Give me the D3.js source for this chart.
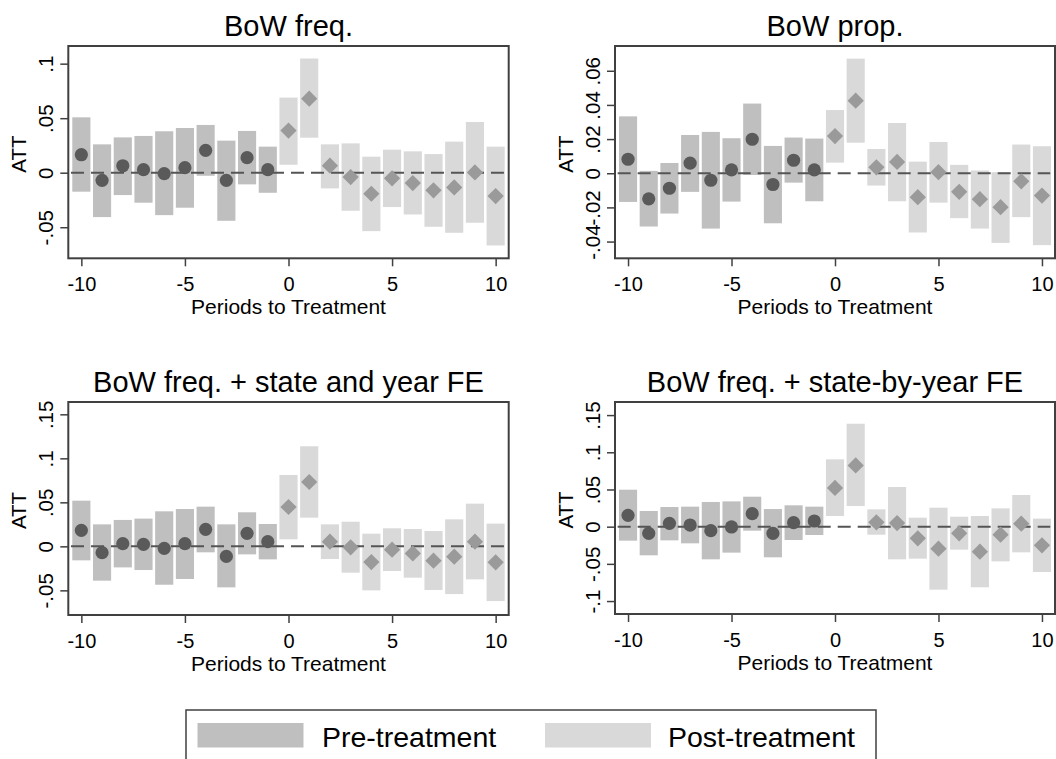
<!DOCTYPE html>
<html>
<head>
<meta charset="utf-8">
<script src="https://cdn.jsdelivr.net/npm/d3@7/dist/d3.min.js"></script>
<style>
  html, body { margin: 0; padding: 0; background: #fff; }
  svg { display: block; font-family: "Liberation Sans", Arial, sans-serif; }
</style>
</head>
<body>
<svg id="chart" width="1056" height="759"></svg>
<script>
// ---------------- DATA ----------------
const periods = [-10,-9,-8,-7,-6,-5,-4,-3,-2,-1,0,1,2,3,4,5,6,7,8,9,10];
const xTicks = [-10, -5, 0, 5, 10];
const panelTitles = ["BoW freq.", "BoW prop.", "BoW freq. + state and year FE", "BoW freq. + state-by-year FE"];
const legendLabels = ["Pre-treatment", "Post-treatment"];

// Panel 1: BoW freq.
const p1Est = [0.0165,-0.0070,0.0064,0.0028,-0.0009,0.0046,0.0205,-0.0070,0.0138,0.0028,0.0386,0.0679,0.0064,-0.0040,-0.0193,-0.0052,-0.0095,-0.0162,-0.0135,0.0003,-0.0214];
const p1Lo  = [-0.0174,-0.0407,-0.0205,-0.0275,-0.0389,-0.0321,-0.0028,-0.0441,-0.0107,-0.0184,0.0073,0.0321,-0.0144,-0.0349,-0.0536,-0.0315,-0.0383,-0.0496,-0.0551,-0.0459,-0.0667];
const p1Hi  = [0.0508,0.0260,0.0324,0.0337,0.0380,0.0410,0.0438,0.0294,0.0383,0.0239,0.0689,0.1047,0.0260,0.0269,0.0147,0.0211,0.0196,0.0171,0.0285,0.0465,0.0239];
const p1YTicks = [-0.05, 0, 0.05, 0.1];

// Panel 2: BoW prop.
const p2Est = [0.0082,-0.0150,-0.0088,0.0059,-0.0041,0.0020,0.0199,-0.0066,0.0076,0.0020,0.0218,0.0425,0.0035,0.0066,-0.0140,0.0006,-0.0109,-0.0152,-0.0199,-0.0047,-0.0131];
const p2Lo  = [-0.0168,-0.0312,-0.0236,-0.0109,-0.0324,-0.0166,-0.0010,-0.0293,-0.0055,-0.0164,0.0062,0.0179,-0.0072,-0.0164,-0.0347,-0.0172,-0.0263,-0.0324,-0.0408,-0.0257,-0.0421];
const p2Hi  = [0.0333,0.0014,0.0060,0.0224,0.0242,0.0205,0.0408,0.0160,0.0209,0.0203,0.0370,0.0671,0.0142,0.0294,0.0068,0.0183,0.0049,0.0016,0.0006,0.0168,0.0158];
const p2YTicks = [-0.04, -0.02, 0, 0.02, 0.04, 0.06];

// Panel 3: BoW freq. + state and year FE
const p3Est = [0.0182,-0.0072,0.0030,0.0023,-0.0023,0.0030,0.0193,-0.0114,0.0148,0.0053,0.0447,0.0731,0.0053,-0.0011,-0.0178,-0.0038,-0.0080,-0.0163,-0.0117,0.0053,-0.0182];
const p3Lo  = [-0.0159,-0.0390,-0.0239,-0.0269,-0.0436,-0.0371,-0.0068,-0.0466,-0.0091,-0.0148,0.0080,0.0326,-0.0144,-0.0299,-0.0500,-0.0280,-0.0356,-0.0496,-0.0542,-0.0375,-0.0622];
const p3Hi  = [0.0519,0.0250,0.0300,0.0315,0.0398,0.0424,0.0451,0.0250,0.0387,0.0254,0.0811,0.1137,0.0250,0.0280,0.0144,0.0205,0.0197,0.0174,0.0307,0.0485,0.0258];
const p3YTicks = [-0.05, 0, 0.05, 0.1, 0.15];

// Panel 4: BoW freq. + state-by-year FE
const p4Est = [0.0152,-0.0090,0.0045,0.0022,-0.0054,-0.0004,0.0175,-0.0090,0.0054,0.0076,0.0520,0.0824,0.0058,0.0049,-0.0157,-0.0296,-0.0090,-0.0336,-0.0108,0.0040,-0.0251];
const p4Lo  = [-0.0188,-0.0385,-0.0184,-0.0224,-0.0439,-0.0349,-0.0054,-0.0412,-0.0179,-0.0112,0.0143,0.0278,-0.0108,-0.0439,-0.0430,-0.0847,-0.0309,-0.0815,-0.0466,-0.0345,-0.0609];
const p4Hi  = [0.0497,0.0211,0.0264,0.0269,0.0332,0.0340,0.0403,0.0237,0.0287,0.0269,0.0905,0.1384,0.0233,0.0533,0.0121,0.0255,0.0134,0.0143,0.0246,0.0426,0.0108];
const p4YTicks = [-0.1, -0.05, 0, 0.05, 0.1, 0.15];

// ---------------- LAYOUT / STYLE ----------------
const panels = [
  { title: panelTitles[0], est: p1Est, lo: p1Lo, hi: p1Hi, yTicks: p1YTicks, yDom: [-0.0785, 0.1162], box: { x0: 68.3, x1: 508.7, y0: 46, y1: 258.3 } },
  { title: panelTitles[1], est: p2Est, lo: p2Lo, hi: p2Hi, yTicks: p2YTicks, yDom: [-0.0498, 0.0745], box: { x0: 615, x1: 1055, y0: 46, y1: 258.3 } },
  { title: panelTitles[2], est: p3Est, lo: p3Lo, hi: p3Hi, yTicks: p3YTicks, yDom: [-0.078, 0.164], box: { x0: 68.3, x1: 508.7, y0: 402, y1: 615 } },
  { title: panelTitles[3], est: p4Est, lo: p4Lo, hi: p4Hi, yTicks: p4YTicks, yDom: [-0.1174, 0.1676], box: { x0: 615, x1: 1055, y0: 402, y1: 614 } }
];

const COL_PRE_BAR = "#bfbfbf";
const COL_POST_BAR = "#d9d9d9";
const COL_PRE_PT = "#5a5a5a";
const COL_POST_PT = "#9a9a9a";
const COL_FRAME = "#404040";
const COL_TEXT = "#000";

function stataFmt(v) {
  const r = +v.toFixed(4);
  if (r === 0) return "0";
  return String(r).replace(/^(-?)0\./, "$1.");
}

const svg = d3.select("#chart");

panels.forEach(p => {
  const b = p.box;
  const x = d3.scaleLinear().domain([-10.63, 10.63]).range([b.x0, b.x1]);
  const y = d3.scaleLinear().domain(p.yDom).range([b.y1, b.y0]);
  const g = svg.append("g");
  const bw = (x(1) - x(0)) * 0.875;

  const rows = periods.map((t, i) => ({ t, est: p.est[i], lo: p.lo[i], hi: p.hi[i], pre: t < 0 }));

  // CI bars
  g.selectAll("rect.ci").data(rows).enter().append("rect")
    .attr("class", "ci")
    .attr("x", d => x(d.t) - bw / 2)
    .attr("width", bw)
    .attr("y", d => y(d.hi))
    .attr("height", d => y(d.lo) - y(d.hi))
    .attr("fill", d => d.pre ? COL_PRE_BAR : COL_POST_BAR);

  // zero reference line
  g.append("line")
    .attr("x1", x(-10.5)).attr("x2", x(10.4))
    .attr("y1", y(0)).attr("y2", y(0))
    .attr("stroke", "#555").attr("stroke-width", 2)
    .attr("stroke-dasharray", "13,7");

  // points
  g.selectAll("circle.pt").data(rows.filter(d => d.pre)).enter().append("circle")
    .attr("class", "pt")
    .attr("cx", d => x(d.t)).attr("cy", d => y(d.est))
    .attr("r", 6.6).attr("fill", COL_PRE_PT);

  const diamond = d3.symbol().type(d3.symbolDiamond2).size(168);
  g.selectAll("path.pt").data(rows.filter(d => !d.pre)).enter().append("path")
    .attr("class", "pt")
    .attr("transform", d => `translate(${x(d.t)},${y(d.est)})`)
    .attr("d", diamond)
    .attr("fill", COL_POST_PT);

  // frame
  g.append("rect")
    .attr("x", b.x0).attr("y", b.y0)
    .attr("width", b.x1 - b.x0).attr("height", b.y1 - b.y0)
    .attr("fill", "none").attr("stroke", COL_FRAME).attr("stroke-width", 2);

  // x axis
  const xAxis = d3.axisBottom(x).tickValues(xTicks).tickSize(8).tickSizeOuter(0).tickFormat(d3.format("d"));
  const xg = g.append("g").attr("transform", `translate(0,${b.y1})`).call(xAxis);
  xg.select(".domain").remove();
  xg.selectAll(".tick line").attr("stroke", COL_FRAME).attr("stroke-width", 1.5);
  xg.selectAll(".tick text").attr("font-size", 20).attr("fill", COL_TEXT)
    .attr("y", 32.5).attr("dy", 0)
    .text(d => d < 0 ? "-" + Math.abs(d) : String(d));

  // y axis
  const yAxis = d3.axisLeft(y).tickValues(p.yTicks).tickSize(8).tickSizeOuter(0).tickFormat(stataFmt);
  const yg = g.append("g").attr("transform", `translate(${b.x0},0)`).call(yAxis);
  yg.select(".domain").remove();
  yg.selectAll(".tick line").attr("stroke", COL_FRAME).attr("stroke-width", 1.5);
  yg.selectAll(".tick text").attr("font-size", 20.5).attr("fill", COL_TEXT)
    .attr("x", null).attr("dy", null)
    .attr("text-anchor", "middle")
    .attr("transform", "translate(-15,0) rotate(-90)")
    .attr("y", 0);

  // axis titles
  g.append("text")
    .attr("x", (b.x0 + b.x1) / 2).attr("y", b.y1 + 56)
    .attr("text-anchor", "middle").attr("font-size", 21).attr("fill", COL_TEXT)
    .text("Periods to Treatment");
  g.append("text")
    .attr("transform", `translate(${b.x0 - 42},${(b.y0 + b.y1) / 2 + 2}) rotate(-90)`)
    .attr("text-anchor", "middle").attr("font-size", 20.5).attr("fill", COL_TEXT)
    .text("ATT");

  // panel title
  g.append("text")
    .attr("x", (b.x0 + b.x1) / 2).attr("y", b.y0 - 10)
    .attr("text-anchor", "middle").attr("font-size", 29).attr("fill", COL_TEXT)
    .text(p.title);
});

// ---------------- LEGEND ----------------
const lg = svg.append("g");
lg.append("rect").attr("x", 186).attr("y", 710).attr("width", 690).attr("height", 70)
  .attr("fill", "#fff").attr("stroke", COL_FRAME).attr("stroke-width", 1.5);
const legendItems = [
  { label: legendLabels[0], color: COL_PRE_BAR, sx: 197.5, tx: 322 },
  { label: legendLabels[1], color: COL_POST_BAR, sx: 545, tx: 668 }
];
legendItems.forEach(it => {
  lg.append("rect").attr("x", it.sx).attr("y", 723).attr("width", 106).attr("height", 24.5).attr("fill", it.color);
  lg.append("text").attr("x", it.tx).attr("y", 746.5).attr("font-size", 28.5).attr("fill", COL_TEXT).text(it.label);
});
</script>
</body>
</html>
